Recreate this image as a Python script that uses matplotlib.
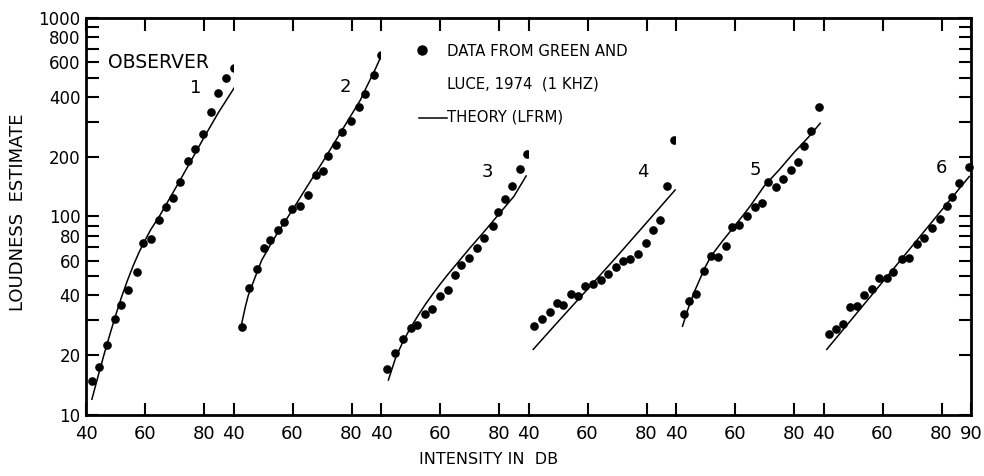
import matplotlib
matplotlib.use("Agg")
import matplotlib.pyplot as plt
from matplotlib import font_manager
from matplotlib.lines import Line2D
from matplotlib.ticker import FixedLocator, FixedFormatter, NullFormatter

# ------------------------------------------------------------------
# Data (intensity in dB, loudness estimate)
# ------------------------------------------------------------------
obs1_db = [42.2, 44.5, 47.2, 49.8, 51.9, 54.1, 57.4, 59.3, 61.9, 64.8,
           67.1, 69.4, 72.0, 74.7, 77.0, 79.6, 82.5, 84.8, 87.5, 90.0]
obs1_loud = [14.8, 17.5, 22.6, 30.3, 35.8, 42.6, 52.7, 73.3, 77.0, 96.0,
             111, 124, 149, 191, 220, 259, 335, 418, 500, 558]
theory1_db = [42, 44, 46, 48, 50, 52, 54, 56, 58, 60, 62, 65, 70, 75, 80, 85, 90.3]
theory1_loud = [12, 15.5, 19.9, 25.2, 31.6, 39.1, 47.4, 56.5, 66.1, 75.9, 86.1,
                101, 136, 184, 250, 336, 446]

obs2_db = [42.8, 45.3, 47.8, 50.2, 52.5, 55.1, 57.1, 59.9, 62.5, 65.1,
           67.8, 70.3, 72.0, 74.8, 76.9, 79.9, 82.5, 84.5, 87.6, 90.0]
obs2_loud = [27.9, 43.8, 54.4, 69.6, 75.9, 85.8, 93.5, 109, 113, 128,
             162, 169, 202, 229, 267, 303, 355, 413, 518, 649]
theory2_db = [42.8, 44, 45, 47, 49.5, 52.5, 55, 60, 65, 70, 75, 80, 83, 85, 88, 90]
theory2_loud = [29, 35, 40, 48, 60, 72, 83, 108, 142, 186, 246, 326, 386, 446, 550, 640]

obs3_db = [42.2, 44.8, 47.3, 50.1, 52.2, 54.9, 57.3, 60.1, 62.6, 65.1,
           67.2, 69.9, 72.4, 75.0, 77.9, 79.5, 81.9, 84.3, 87.0, 89.4]
obs3_loud = [17.1, 20.5, 24.1, 27.3, 28.5, 32.3, 34.1, 39.9, 42.5, 50.5,
             57.0, 62.0, 69.4, 78.2, 89.2, 105, 122, 143, 173, 206]
theory3_db = [42.5, 45, 47.5, 50, 52.5, 55, 57.5, 60, 62.5, 65, 70, 75, 80, 85, 89.2]
theory3_loud = [15, 19.5, 23.5, 27.5, 31.6, 36, 40.6, 45.5, 50.7, 56.2, 69,
                84, 103, 126, 160]

obs4_db = [42.0, 44.7, 47.2, 49.5, 51.8, 54.3, 56.9, 59.3, 61.8, 64.5,
           67.1, 69.6, 71.9, 74.5, 77.1, 79.8, 82.1, 84.7, 86.9, 89.4]
obs4_loud = [28.2, 30.3, 33.1, 36.8, 35.7, 40.6, 39.9, 44.8, 45.5, 47.7,
             51.2, 55.5, 59.7, 60.9, 64.7, 73.6, 85.5, 96.4, 143, 243]
theory4_db = [41.6, 50, 60, 70, 80, 89.7]
theory4_loud = [21.4, 29.5, 43, 63, 93, 136]

obs5_db = [42.6, 44.4, 46.9, 49.4, 51.7, 54.4, 56.9, 59.1, 61.3, 64.0,
           66.7, 69.2, 71.3, 73.9, 76.3, 78.9, 81.2, 83.4, 85.9, 88.4]
obs5_loud = [32.3, 37.7, 40.6, 53.0, 63.2, 62.3, 71.0, 88.9, 90.6, 101,
             112, 117, 149, 140, 154, 171, 188, 227, 269, 355]
theory5_db = [42.2, 44, 46, 48, 50, 52, 56, 60, 65, 70, 75, 80, 85, 88.9]
theory5_loud = [28, 34, 41, 48, 56, 63.5, 76, 90, 112, 143, 172, 210, 252, 295]

obs6_db = [41.7, 44.2, 46.6, 49.1, 51.4, 53.7, 56.3, 58.8, 61.5, 63.6,
           66.5, 69.1, 71.6, 74.0, 76.7, 79.4, 81.7, 83.7, 85.9, 89.4]
obs6_loud = [25.5, 27.0, 28.6, 35.0, 35.3, 40.1, 43.1, 49.2, 49.2, 52.7,
             61.1, 61.8, 72.4, 77.9, 87.2, 97.1, 113, 126, 148, 178]
theory6_db = [41.1, 65, 89.4]
theory6_loud = [21.4, 57.5, 159]

observer_names = ["1", "2", "3", "4", "5", "6"]
y_major = [10, 20, 40, 60, 80, 100, 200, 400, 600, 800, 1000]
y_minor = [30, 50, 70, 90, 300, 500, 700, 900]
x_major = [40, 60, 80]

panels = [
    (obs1_db, obs1_loud, theory1_db, theory1_loud),
    (obs2_db, obs2_loud, theory2_db, theory2_loud),
    (obs3_db, obs3_loud, theory3_db, theory3_loud),
    (obs4_db, obs4_loud, theory4_db, theory4_loud),
    (obs5_db, obs5_loud, theory5_db, theory5_loud),
    (obs6_db, obs6_loud, theory6_db, theory6_loud),
]
# where the observer number sits inside each panel (dB, loudness)
name_pos = [(77.2, 444), (77.9, 449), (76.2, 168), (78.8, 168), (67.0, 171), (80.1, 175)]

available = {f.name for f in font_manager.fontManager.ttflist}
narrow = "Liberation Sans Narrow" if "Liberation Sans Narrow" in available else "DejaVu Sans"
legend_size = 13.5 if narrow != "DejaVu Sans" else 10.7

fig, axes = plt.subplots(1, 6, figsize=(9.84, 4.76), dpi=100, sharey=True)
fig.subplots_adjust(left=0.0874, right=0.9868, bottom=0.1282, top=0.9622, wspace=0)

for i, (ax, (xd, yd, xt, yt)) in enumerate(zip(axes, panels)):
    ax.set_yscale("log")
    ax.plot(xt, yt, color="black", linewidth=1.1, clip_on=False, zorder=3)
    ax.plot(xd, yd, "o", color="black", markersize=5.2, clip_on=False, zorder=4)
    ax.set_xlim(40, 90)
    ax.set_ylim(10, 1000)

    ticks = x_major + [90] if i == 5 else x_major
    ax.set_xticks(ticks)
    ax.set_xticklabels([str(t) for t in ticks])
    ax.tick_params(axis="x", which="both", direction="in", top=True, bottom=True,
                   length=9, width=1.5, labelsize=13, pad=7)

    ax.yaxis.set_major_locator(FixedLocator(y_major))
    ax.yaxis.set_major_formatter(FixedFormatter([str(v) for v in y_major]))
    ax.yaxis.set_minor_locator(FixedLocator(y_minor))
    ax.yaxis.set_minor_formatter(NullFormatter())
    ax.tick_params(axis="y", which="both", direction="in", length=9, width=1.5,
                   left=(i == 0), right=(i == 5), labelleft=(i == 0),
                   labelright=False, labelsize=12, pad=4)

    for side in ("top", "bottom", "left", "right"):
        ax.spines[side].set_linewidth(2)
    if i > 0:
        ax.spines["left"].set_visible(False)
    if i < 5:
        ax.spines["right"].set_visible(False)

    nx, ny = name_pos[i]
    ax.text(nx, ny, observer_names[i], fontsize=13, ha="center", va="center")

axes[0].text(64.7, 600, "OBSERVER", fontsize=13.5, ha="center", va="center")

# legend, drawn by hand to keep the original arrangement
fig.add_artist(Line2D([0.4289], [0.895], marker="o", color="black",
                      markersize=6.5, transform=fig.transFigure))
fig.add_artist(Line2D([0.4258, 0.4543], [0.752, 0.752], color="black",
                      linewidth=1.1, transform=fig.transFigure))
fig.text(0.4543, 0.891, "DATA FROM GREEN AND", family=narrow,
         fontsize=legend_size, va="center")
fig.text(0.4543, 0.8235, "LUCE, 1974  (1 KHZ)", family=narrow,
         fontsize=legend_size, va="center")
fig.text(0.4543, 0.754, "THEORY (LFRM)", family=narrow,
         fontsize=legend_size, va="center")

fig.text(0.0183, 0.555, "LOUDNESS  ESTIMATE", rotation=90, fontsize=13,
         ha="center", va="center")
fig.text(0.496, 0.034, "INTENSITY IN  DB", fontsize=11.5, ha="center", va="center")

fig.savefig("out.png", dpi=100)
